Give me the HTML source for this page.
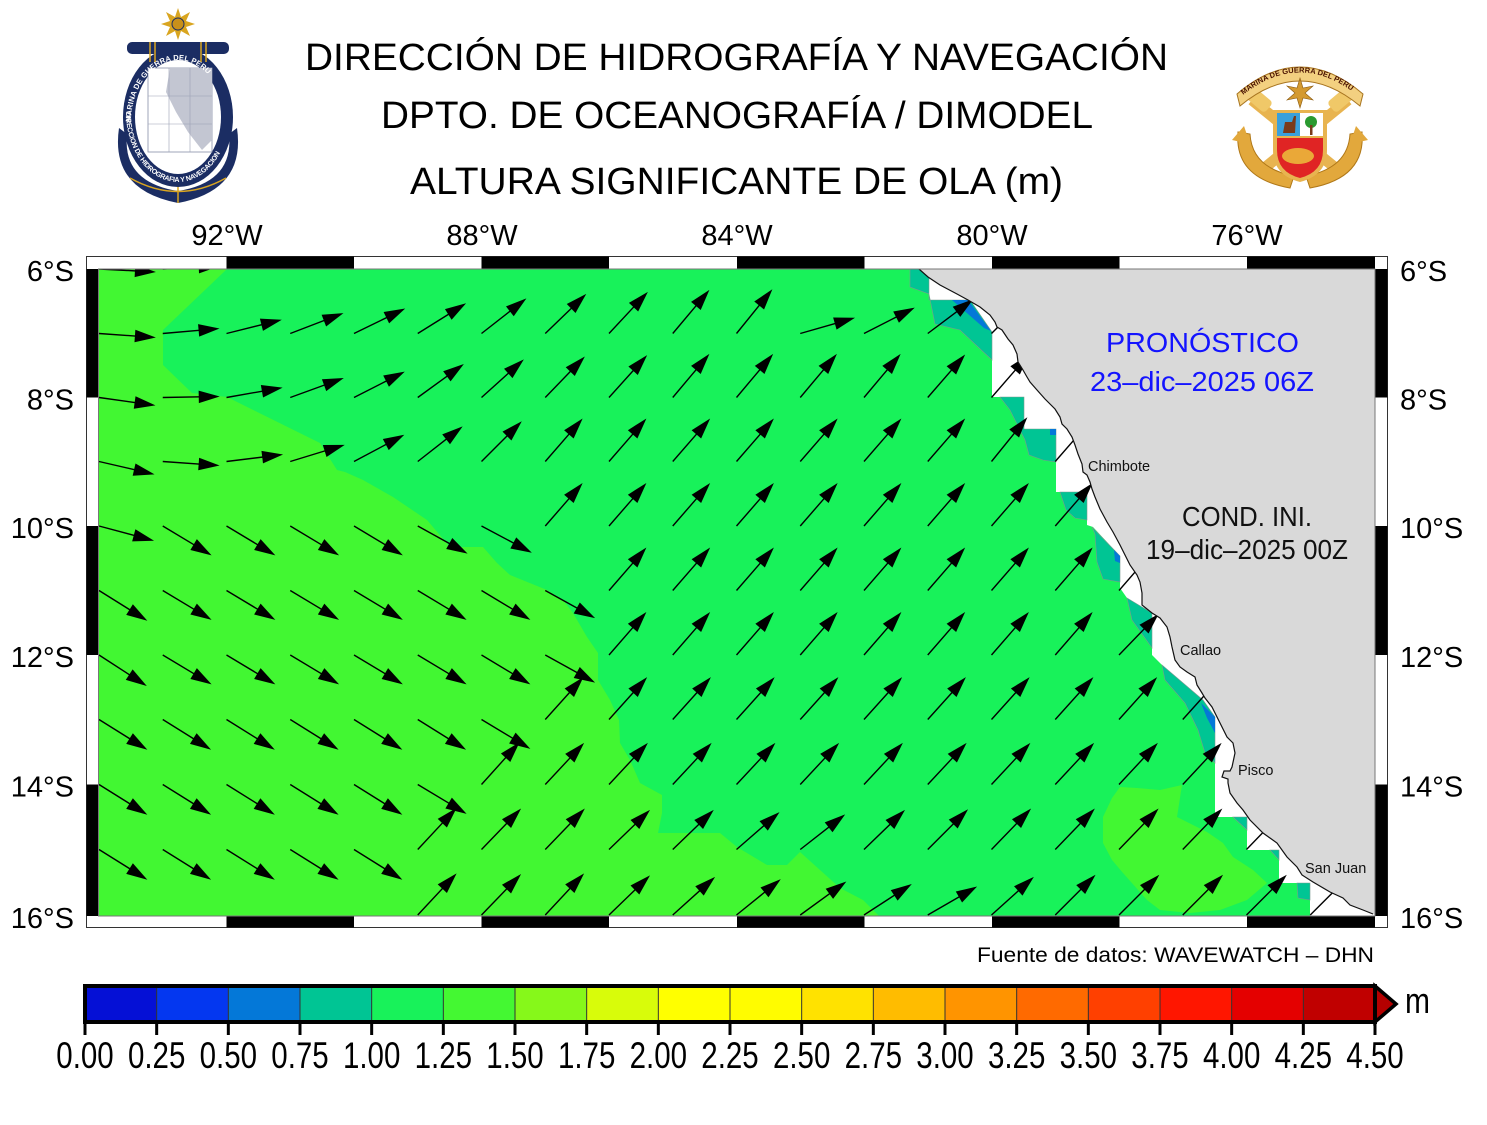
<!DOCTYPE html>
<html><head><meta charset="utf-8"><style>
html,body{margin:0;padding:0;background:#fff;}
svg{display:block;}
text{font-family:"Liberation Sans",Arial,sans-serif;}
</style></head><body>
<svg width="1487" height="1125" viewBox="0 0 1487 1125" xmlns="http://www.w3.org/2000/svg">
<defs>
<clipPath id="pc"><rect x="98.5" y="269" width="1276.5" height="647"/></clipPath>
<g id="a"><line x1="0" y1="0" x2="38" y2="0" stroke="#000" stroke-width="1.4"/><polygon points="57,0 36,-6.3 36,6.3" fill="#000"/></g>
<path id="ringTop" d="M131,122 A47,62 0 0 1 225,122"/>
<path id="ringBot" d="M126,112 A52,70 0 0 0 230,112"/>
<path id="banner" d="M1243,95 Q1300,50 1357,95"/>
</defs>
<rect x="0" y="0" width="1487" height="1125" fill="#fff"/>

<!-- LEFT LOGO -->
<g>
<path d="M119,128 Q110,190 178,203 Q246,190 237,128 L229,134 Q234,182 178,191 Q122,182 127,134 Z" fill="#1b2d63"/>
<path d="M130,178 Q178,205 226,178" fill="none" stroke="#d9a520" stroke-width="1.5"/>
<line x1="178" y1="186" x2="178" y2="203" stroke="#d9a520" stroke-width="1.5"/>
<ellipse cx="178" cy="117" rx="55" ry="70" fill="#1b2d63"/>
<ellipse cx="178" cy="117" rx="43" ry="57" fill="#fff"/>
<rect x="148" y="68" width="64" height="84" fill="#fff" stroke="#8890a8" stroke-width="0.8"/>
<polygon points="170,68 212,68 212,140 202,150 188,132 176,112 166,92" fill="#c3c6d2"/>
<g stroke="#9aa0b4" stroke-width="0.6"><line x1="148" y1="96" x2="212" y2="96"/><line x1="148" y1="124" x2="212" y2="124"/><line x1="169" y1="68" x2="169" y2="152"/><line x1="190" y1="68" x2="190" y2="152"/></g>
<text font-size="7.5" fill="#fff" font-weight="bold"><textPath href="#ringTop" textLength="120">MARINA DE GUERRA DEL PERU</textPath></text>
<text font-size="7" fill="#fff" font-weight="bold"><textPath href="#ringBot" textLength="150">DIRECCION DE HIDROGRAFIA Y NAVEGACION</textPath></text>
<rect x="127" y="42" width="102" height="12" rx="5" fill="#1b2d63"/>
<g stroke="#d9a520" stroke-width="1.5"><line x1="150" y1="42" x2="150" y2="62"/><line x1="155" y1="42" x2="155" y2="62"/><line x1="201" y1="42" x2="201" y2="62"/><line x1="206" y1="42" x2="206" y2="62"/></g>
<polygon points="178,8 181,17 190,12 186,21 195,24 186,27 190,36 181,31 178,40 175,31 166,36 170,27 161,24 170,21 166,12 175,17" fill="#d9a520"/>
<circle cx="178" cy="24" r="6" fill="#c8901a" stroke="#1b2d63" stroke-width="1"/>
</g>

<!-- RIGHT LOGO -->
<g>
<line x1="1252" y1="100" x2="1338" y2="170" stroke="#e8b450" stroke-width="11"/>
<line x1="1348" y1="100" x2="1262" y2="170" stroke="#e8b450" stroke-width="11"/>
<rect x="1244" y="92" width="28" height="14" rx="4" fill="#f0c868" transform="rotate(40 1258 99)"/>
<rect x="1328" y="92" width="28" height="14" rx="4" fill="#f0c868" transform="rotate(-40 1342 99)"/>
<path d="M1238,132 Q1234,178 1290,188 L1294,176 Q1252,168 1250,134 Z" fill="#e2a83c" stroke="#b07818" stroke-width="1"/>
<path d="M1362,132 Q1366,178 1310,188 L1306,176 Q1348,168 1350,134 Z" fill="#e2a83c" stroke="#b07818" stroke-width="1"/>
<polygon points="1232,140 1244,126 1250,144" fill="#e2a83c"/>
<polygon points="1368,140 1356,126 1350,144" fill="#e2a83c"/>
<path d="M1237,94 Q1300,40 1363,94 L1360,106 Q1300,56 1240,106 Z" fill="#f3d080" stroke="#a87520" stroke-width="1"/>
<text font-size="7.5" fill="#4a1200" font-weight="bold"><textPath href="#banner" textLength="118">MARINA DE GUERRA DEL PERU</textPath></text>
<polygon points="1300,78 1303,88 1313,86 1305,93 1313,100 1303,98 1300,108 1297,98 1287,100 1295,93 1287,86 1297,88" fill="#d49a30" stroke="#8a5a10" stroke-width="0.6"/>
<path d="M1273,110 H1327 V150 Q1327,175 1300,182 Q1273,175 1273,150 Z" fill="#e8b450"/>
<rect x="1277" y="113" width="23" height="23" fill="#3aa0dc"/>
<rect x="1300" y="113" width="23" height="23" fill="#fff"/>
<path d="M1277,138 H1323 V150 Q1323,172 1300,178 Q1277,172 1277,150 Z" fill="#e02424"/>
<ellipse cx="1298" cy="156" rx="16" ry="8" fill="#eaa838"/>
<path d="M1283,133 L1285,122 L1292,122 L1294,116 L1296,116 L1295,133 Z" fill="#7a3a1a"/>
<circle cx="1311" cy="122" r="6" fill="#2a9a30"/>
<rect x="1310" y="125" width="2.5" height="10" fill="#7a3a1a"/>
</g>

<!-- TITLES -->
<text x="305" y="70" font-size="38" textLength="863" lengthAdjust="spacingAndGlyphs" fill="#000">DIRECCIÓN DE HIDROGRAFÍA Y NAVEGACIÓN</text>
<text x="381" y="128" font-size="38" textLength="712" lengthAdjust="spacingAndGlyphs" fill="#000">DPTO. DE OCEANOGRAFÍA / DIMODEL</text>
<text x="410" y="194" font-size="38" textLength="653" lengthAdjust="spacingAndGlyphs" fill="#000">ALTURA SIGNIFICANTE DE OLA (m)</text>

<!-- FRAME -->
<rect x="86.5" y="256.5" width="1301" height="671" fill="#fff" stroke="#333" stroke-width="1"/>
<g fill="#000">
<rect x="226.5" y="256.5" width="127.5" height="12.5"/><rect x="481.5" y="256.5" width="127.5" height="12.5"/><rect x="737" y="256.5" width="127.5" height="12.5"/><rect x="992" y="256.5" width="127.5" height="12.5"/><rect x="1247" y="256.5" width="128" height="12.5"/>
<rect x="226.5" y="916" width="127.5" height="11.5"/><rect x="481.5" y="916" width="127.5" height="11.5"/><rect x="737" y="916" width="127.5" height="11.5"/><rect x="992" y="916" width="127.5" height="11.5"/><rect x="1247" y="916" width="128" height="11.5"/>
<rect x="86.5" y="269" width="12" height="128.5"/><rect x="86.5" y="526" width="12" height="129"/><rect x="86.5" y="784.5" width="12" height="131.5"/>
<rect x="1375" y="269" width="12.5" height="128.5"/><rect x="1375" y="526" width="12.5" height="129"/><rect x="1375" y="784.5" width="12.5" height="131.5"/>
</g>
<rect x="98.5" y="269" width="1276.5" height="647" fill="#fff" stroke="#777" stroke-width="1"/>

<g clip-path="url(#pc)">
<!-- data base 1.00-1.25 -->
<path d="M98.5,269 L929,269 L929,300 L970,300 L992,332 L992,397 L1024,397 L1024,429 L1056,429 L1056,492 L1087,492 L1087,525 L1093,527 L1120,556 L1120,588 L1127,598 L1152,613 L1152,655 L1162,665 L1215,717 L1215,817 L1247,817 L1247,850 L1279,850 L1279,883 L1310,883 L1310,917 L98.5,917 Z" fill="#18f25a"/>
<!-- 1.25-1.50 -->
<path d="M98.5,269 L227,269 L163,330 L163,365 L192,393 L227,397 L320,443 L337,470 L345,472 L363,480 L393,497 L427,520 L450,547 L483,547 L497,563 L510,575 L547,590 L563,600 L573,613 L587,637 L598,653 L598,680 L610,700 L619,720 L620,743 L630,760 L640,783 L662,795 L662,813 L658,833 L720,833 L737,847 L767,865 L787,865 L800,852 L820,870 L840,888 L863,900 L880,917 L98.5,917 Z" fill="#42f732"/>
<path d="M1120,787 L1137,788 L1160,790 L1182,785 L1177,817 L1207,832 L1223,843 L1233,857 L1253,870 L1267,883 L1247,900 L1220,910 L1190,913 L1160,910 L1147,900 L1123,873 L1112,860 L1103,843 L1103,817 L1112,798 Z" fill="#42f732"/>
<!-- 0.75-1.00 -->
<g fill="#00c594" stroke="#7a9a90" stroke-width="0.6">
<path d="M910,269 L929,269 L929,300 L970,300 L992,332 L992,360 L960,330 L935,324 L929,294 L910,287 Z"/>
<path d="M1000,397 L1024,397 L1024,429 L1056,429 L1056,462 L1043,460 L1029,455 L1025,440 L1010,410 Z"/>
<path d="M1060,492 L1087,492 L1087,520 L1075,518 L1066,510 Z"/>
<path d="M1092,527 L1120,556 L1120,582 L1103,579 L1097,562 L1095,534 Z"/>
<path d="M1127,598 L1152,613 L1152,648 L1132,620 Z"/>
<path d="M1162,665 L1203,700 L1215,717 L1215,763 L1205,753 L1198,730 L1185,703 L1165,680 Z"/>
<path d="M1233,817 L1247,817 L1247,830 Z"/>
<path d="M1270,850 L1279,850 L1279,860 Z"/>
<path d="M1297,883 L1310,883 L1310,900 L1298,898 Z"/>
</g>
<!-- 0.50-0.75 -->
<g fill="#0478d8">
<path d="M952,300 L968,300 L991,331 L984,328 Z"/>
<path d="M1050,429 L1056,429 L1056,435 L1050,435 Z"/>
<path d="M1114,550 L1120,556 L1120,563 L1115,561 Z"/>
<path d="M1201,703 L1215,717 L1215,733 L1207,718 Z"/>
</g>

<!-- ARROWS -->
<g>
<use href="#a" transform="translate(99,269) rotate(3)"/>
<use href="#a" transform="translate(162.75,269) rotate(-3)"/>

<use href="#a" transform="translate(99,333.5) rotate(4)"/>
<use href="#a" transform="translate(162.75,333.5) rotate(-5)"/>
<use href="#a" transform="translate(226.5,333.5) rotate(-14)"/>
<use href="#a" transform="translate(290.25,333.5) rotate(-21)"/>
<use href="#a" transform="translate(354,333.5) rotate(-26)"/>
<use href="#a" transform="translate(417.75,333.5) rotate(-32)"/>
<use href="#a" transform="translate(481.5,333.5) rotate(-38)"/>
<use href="#a" transform="translate(545.25,333.5) rotate(-44)"/>
<use href="#a" transform="translate(609,333.5) rotate(-47)"/>
<use href="#a" transform="translate(672.75,333.5) rotate(-50)"/>
<use href="#a" transform="translate(736.5,333.5) rotate(-51)"/>
<use href="#a" transform="translate(800.25,333.5) rotate(-16)"/>
<use href="#a" transform="translate(864,333.5) rotate(-27)"/>
<use href="#a" transform="translate(927.75,333.5) rotate(-37)"/>
<use href="#a" transform="translate(991.5,333.5) rotate(-45)"/>

<use href="#a" transform="translate(99,397.5) rotate(8)"/>
<use href="#a" transform="translate(162.75,397.5) rotate(-1)"/>
<use href="#a" transform="translate(226.5,397.5) rotate(-10)"/>
<use href="#a" transform="translate(290.25,397.5) rotate(-20)"/>
<use href="#a" transform="translate(354,397.5) rotate(-27)"/>
<use href="#a" transform="translate(417.75,397.5) rotate(-36)"/>
<use href="#a" transform="translate(481.5,397.5) rotate(-42)"/>
<use href="#a" transform="translate(545.25,397.5) rotate(-46)"/>
<use href="#a" transform="translate(609,397.5) rotate(-48)"/>
<use href="#a" transform="translate(672.75,397.5) rotate(-50)"/>
<use href="#a" transform="translate(736.5,397.5) rotate(-50)"/>
<use href="#a" transform="translate(800.25,397.5) rotate(-50)"/>
<use href="#a" transform="translate(864,397.5) rotate(-50)"/>
<use href="#a" transform="translate(927.75,397.5) rotate(-49)"/>
<use href="#a" transform="translate(991.5,397.5) rotate(-49)"/>

<use href="#a" transform="translate(99,461.5) rotate(13)"/>
<use href="#a" transform="translate(162.75,461.5) rotate(4)"/>
<use href="#a" transform="translate(226.5,461.5) rotate(-7)"/>
<use href="#a" transform="translate(290.25,461.5) rotate(-17)"/>
<use href="#a" transform="translate(354,461.5) rotate(-28)"/>
<use href="#a" transform="translate(417.75,461.5) rotate(-38)"/>
<use href="#a" transform="translate(481.5,461.5) rotate(-45)"/>
<use href="#a" transform="translate(545.25,461.5) rotate(-49)"/>
<use href="#a" transform="translate(609,461.5) rotate(-49)"/>
<use href="#a" transform="translate(672.75,461.5) rotate(-49)"/>
<use href="#a" transform="translate(736.5,461.5) rotate(-49)"/>
<use href="#a" transform="translate(800.25,461.5) rotate(-49)"/>
<use href="#a" transform="translate(864,461.5) rotate(-49)"/>
<use href="#a" transform="translate(927.75,461.5) rotate(-49)"/>
<use href="#a" transform="translate(991.5,461.5) rotate(-51)"/>
<use href="#a" transform="translate(1055.25,461.5) rotate(-49)"/>

<use href="#a" transform="translate(99,526) rotate(15)"/>
<use href="#a" transform="translate(162.75,526) rotate(31)"/>
<use href="#a" transform="translate(226.5,526) rotate(31)"/>
<use href="#a" transform="translate(290.25,526) rotate(31)"/>
<use href="#a" transform="translate(354,526) rotate(31)"/>
<use href="#a" transform="translate(417.75,526) rotate(29)"/>
<use href="#a" transform="translate(481.5,526) rotate(28)"/>
<use href="#a" transform="translate(545.25,526) rotate(-49)"/>
<use href="#a" transform="translate(609,526) rotate(-49)"/>
<use href="#a" transform="translate(672.75,526) rotate(-49)"/>
<use href="#a" transform="translate(736.5,526) rotate(-49)"/>
<use href="#a" transform="translate(800.25,526) rotate(-49)"/>
<use href="#a" transform="translate(864,526) rotate(-49)"/>
<use href="#a" transform="translate(927.75,526) rotate(-49)"/>
<use href="#a" transform="translate(991.5,526) rotate(-49)"/>
<use href="#a" transform="translate(1055.25,526) rotate(-49)"/>

<use href="#a" transform="translate(99,590.5) rotate(32)"/>
<use href="#a" transform="translate(162.75,590.5) rotate(31)"/>
<use href="#a" transform="translate(226.5,590.5) rotate(31)"/>
<use href="#a" transform="translate(290.25,590.5) rotate(31)"/>
<use href="#a" transform="translate(354,590.5) rotate(31)"/>
<use href="#a" transform="translate(417.75,590.5) rotate(31)"/>
<use href="#a" transform="translate(481.5,590.5) rotate(31)"/>
<use href="#a" transform="translate(545.25,590.5) rotate(29)"/>
<use href="#a" transform="translate(609,590.5) rotate(-49)"/>
<use href="#a" transform="translate(672.75,590.5) rotate(-49)"/>
<use href="#a" transform="translate(736.5,590.5) rotate(-49)"/>
<use href="#a" transform="translate(800.25,590.5) rotate(-49)"/>
<use href="#a" transform="translate(864,590.5) rotate(-49)"/>
<use href="#a" transform="translate(927.75,590.5) rotate(-49)"/>
<use href="#a" transform="translate(991.5,590.5) rotate(-49)"/>
<use href="#a" transform="translate(1055.25,590.5) rotate(-49)"/>
<use href="#a" transform="translate(1119,590.5) rotate(-49)"/>

<use href="#a" transform="translate(99,655) rotate(33)"/>
<use href="#a" transform="translate(162.75,655) rotate(31)"/>
<use href="#a" transform="translate(226.5,655) rotate(31)"/>
<use href="#a" transform="translate(290.25,655) rotate(31)"/>
<use href="#a" transform="translate(354,655) rotate(31)"/>
<use href="#a" transform="translate(417.75,655) rotate(31)"/>
<use href="#a" transform="translate(481.5,655) rotate(31)"/>
<use href="#a" transform="translate(545.25,655) rotate(29)"/>
<use href="#a" transform="translate(609,655) rotate(-49)"/>
<use href="#a" transform="translate(672.75,655) rotate(-49)"/>
<use href="#a" transform="translate(736.5,655) rotate(-49)"/>
<use href="#a" transform="translate(800.25,655) rotate(-49)"/>
<use href="#a" transform="translate(864,655) rotate(-49)"/>
<use href="#a" transform="translate(927.75,655) rotate(-49)"/>
<use href="#a" transform="translate(991.5,655) rotate(-49)"/>
<use href="#a" transform="translate(1055.25,655) rotate(-49)"/>
<use href="#a" transform="translate(1119,655) rotate(-46)"/>

<use href="#a" transform="translate(99,719.5) rotate(32)"/>
<use href="#a" transform="translate(162.75,719.5) rotate(32)"/>
<use href="#a" transform="translate(226.5,719.5) rotate(32)"/>
<use href="#a" transform="translate(290.25,719.5) rotate(32)"/>
<use href="#a" transform="translate(354,719.5) rotate(32)"/>
<use href="#a" transform="translate(417.75,719.5) rotate(32)"/>
<use href="#a" transform="translate(481.5,719.5) rotate(31)"/>
<use href="#a" transform="translate(545.25,719.5) rotate(-48)"/>
<use href="#a" transform="translate(609,719.5) rotate(-48)"/>
<use href="#a" transform="translate(672.75,719.5) rotate(-48)"/>
<use href="#a" transform="translate(736.5,719.5) rotate(-48)"/>
<use href="#a" transform="translate(800.25,719.5) rotate(-48)"/>
<use href="#a" transform="translate(864,719.5) rotate(-48)"/>
<use href="#a" transform="translate(927.75,719.5) rotate(-48)"/>
<use href="#a" transform="translate(991.5,719.5) rotate(-48)"/>
<use href="#a" transform="translate(1055.25,719.5) rotate(-48)"/>
<use href="#a" transform="translate(1119,719.5) rotate(-48)"/>
<use href="#a" transform="translate(1182.75,719.5) rotate(-48)"/>

<use href="#a" transform="translate(99,784.5) rotate(32)"/>
<use href="#a" transform="translate(162.75,784.5) rotate(32)"/>
<use href="#a" transform="translate(226.5,784.5) rotate(32)"/>
<use href="#a" transform="translate(290.25,784.5) rotate(32)"/>
<use href="#a" transform="translate(354,784.5) rotate(32)"/>
<use href="#a" transform="translate(417.75,784.5) rotate(31)"/>
<use href="#a" transform="translate(481.5,784.5) rotate(-48)"/>
<use href="#a" transform="translate(545.25,784.5) rotate(-47)"/>
<use href="#a" transform="translate(609,784.5) rotate(-47)"/>
<use href="#a" transform="translate(672.75,784.5) rotate(-47)"/>
<use href="#a" transform="translate(736.5,784.5) rotate(-47)"/>
<use href="#a" transform="translate(800.25,784.5) rotate(-47)"/>
<use href="#a" transform="translate(864,784.5) rotate(-47)"/>
<use href="#a" transform="translate(927.75,784.5) rotate(-47)"/>
<use href="#a" transform="translate(991.5,784.5) rotate(-47)"/>
<use href="#a" transform="translate(1055.25,784.5) rotate(-47)"/>
<use href="#a" transform="translate(1119,784.5) rotate(-47)"/>
<use href="#a" transform="translate(1182.75,784.5) rotate(-47)"/>

<use href="#a" transform="translate(99,849.5) rotate(32)"/>
<use href="#a" transform="translate(162.75,849.5) rotate(32)"/>
<use href="#a" transform="translate(226.5,849.5) rotate(32)"/>
<use href="#a" transform="translate(290.25,849.5) rotate(32)"/>
<use href="#a" transform="translate(354,849.5) rotate(32)"/>
<use href="#a" transform="translate(417.75,849.5) rotate(-47)"/>
<use href="#a" transform="translate(481.5,849.5) rotate(-46)"/>
<use href="#a" transform="translate(545.25,849.5) rotate(-46)"/>
<use href="#a" transform="translate(609,849.5) rotate(-44)"/>
<use href="#a" transform="translate(672.75,849.5) rotate(-44)"/>
<use href="#a" transform="translate(736.5,849.5) rotate(-41)"/>
<use href="#a" transform="translate(800.25,849.5) rotate(-38)"/>
<use href="#a" transform="translate(864,849.5) rotate(-44)"/>
<use href="#a" transform="translate(927.75,849.5) rotate(-45)"/>
<use href="#a" transform="translate(991.5,849.5) rotate(-46)"/>
<use href="#a" transform="translate(1055.25,849.5) rotate(-46)"/>
<use href="#a" transform="translate(1119,849.5) rotate(-46)"/>
<use href="#a" transform="translate(1182.75,849.5) rotate(-46)"/>
<use href="#a" transform="translate(1246.5,849.5) rotate(-46)"/>

<use href="#a" transform="translate(417.75,915) rotate(-47)"/>
<use href="#a" transform="translate(481.5,915) rotate(-46)"/>
<use href="#a" transform="translate(545.25,915) rotate(-47)"/>
<use href="#a" transform="translate(609,915) rotate(-44)"/>
<use href="#a" transform="translate(672.75,915) rotate(-42)"/>
<use href="#a" transform="translate(736.5,915) rotate(-39)"/>
<use href="#a" transform="translate(800.25,915) rotate(-36)"/>
<use href="#a" transform="translate(864,915) rotate(-33)"/>
<use href="#a" transform="translate(927.75,915) rotate(-30)"/>
<use href="#a" transform="translate(991.5,915) rotate(-42)"/>
<use href="#a" transform="translate(1055.25,915) rotate(-45)"/>
<use href="#a" transform="translate(1119,915) rotate(-45)"/>
<use href="#a" transform="translate(1182.75,915) rotate(-45)"/>
<use href="#a" transform="translate(1246.5,915) rotate(-45)"/>
<use href="#a" transform="translate(1310.25,915) rotate(-45)"/>
</g>

<!-- LAND -->
<path d="M919,269 L928,277 L940,285 L957,294 L968,300 L980,307 L990,315 L995,322 L997,327 L1002,330 L1008,339 L1013,345 L1017,354 L1018,362 L1023,370 L1027,377 L1030,382 L1037,390 L1045,399 L1055,409 L1060,417 L1062,424 L1067,429 L1072,437 L1075,445 L1078,454 L1082,464 L1083,472 L1087,475 L1090,482 L1092,489 L1095,497 L1100,509 L1107,522 L1113,532 L1120,545 L1125,555 L1130,565 L1137,575 L1140,582 L1142,593 L1142,605 L1152,613 L1160,618 L1167,627 L1170,637 L1172,647 L1175,660 L1180,667 L1187,672 L1195,677 L1197,685 L1202,693 L1205,698 L1212,707 L1217,717 L1222,727 L1227,737 L1233,743 L1235,753 L1232,767 L1230,771 L1224,771 L1222,777 L1228,779 L1228,783 L1230,793 L1237,803 L1243,810 L1250,820 L1263,833 L1277,843 L1287,857 L1297,867 L1302,875 L1313,882 L1330,892 L1343,898 L1350,905 L1363,910 L1373,914 L1376,916 L1376,268 L919,268 Z" fill="#d9d9d9"/>
<path d="M919,269 L928,277 L940,285 L957,294 L968,300 L980,307 L990,315 L995,322 L997,327 L1002,330 L1008,339 L1013,345 L1017,354 L1018,362 L1023,370 L1027,377 L1030,382 L1037,390 L1045,399 L1055,409 L1060,417 L1062,424 L1067,429 L1072,437 L1075,445 L1078,454 L1082,464 L1083,472 L1087,475 L1090,482 L1092,489 L1095,497 L1100,509 L1107,522 L1113,532 L1120,545 L1125,555 L1130,565 L1137,575 L1140,582 L1142,593 L1142,605 L1152,613 L1160,618 L1167,627 L1170,637 L1172,647 L1175,660 L1180,667 L1187,672 L1195,677 L1197,685 L1202,693 L1205,698 L1212,707 L1217,717 L1222,727 L1227,737 L1233,743 L1235,753 L1232,767 L1230,771 L1224,771 L1222,777 L1228,779 L1228,783 L1230,793 L1237,803 L1243,810 L1250,820 L1263,833 L1277,843 L1287,857 L1297,867 L1302,875 L1313,882 L1330,892 L1343,898 L1350,905 L1363,910 L1373,914" fill="none" stroke="#111" stroke-width="1.2"/>
</g>
<rect x="98.5" y="269" width="1276.5" height="647" fill="none" stroke="#777" stroke-width="1"/>

<!-- city labels -->
<g font-size="14.5" fill="#111">
<text x="1088" y="471">Chimbote</text>
<text x="1180" y="655">Callao</text>
<text x="1238" y="775">Pisco</text>
<text x="1305" y="873">San Juan</text>
</g>

<!-- forecast text -->
<text x="1106" y="352" font-size="28" textLength="193" lengthAdjust="spacingAndGlyphs" fill="#1414ff">PRONÓSTICO</text>
<text x="1090" y="391" font-size="28" textLength="224" lengthAdjust="spacingAndGlyphs" fill="#1414ff">23–dic–2025 06Z</text>
<text x="1182" y="526" font-size="28" textLength="130" lengthAdjust="spacingAndGlyphs" fill="#111">COND. INI.</text>
<text x="1146" y="559" font-size="28" textLength="202" lengthAdjust="spacingAndGlyphs" fill="#111">19–dic–2025 00Z</text>

<!-- axis labels -->
<g font-size="29" fill="#000" text-anchor="middle">
<text x="227" y="245">92°W</text>
<text x="482" y="245">88°W</text>
<text x="737" y="245">84°W</text>
<text x="992" y="245">80°W</text>
<text x="1247" y="245">76°W</text>
</g>
<g font-size="29" fill="#000" text-anchor="end">
<text x="74" y="281">6°S</text>
<text x="74" y="409.5">8°S</text>
<text x="74" y="538">10°S</text>
<text x="74" y="667">12°S</text>
<text x="74" y="796.5">14°S</text>
<text x="74" y="928">16°S</text>
</g>
<g font-size="29" fill="#000">
<text x="1400" y="281">6°S</text>
<text x="1400" y="409.5">8°S</text>
<text x="1400" y="538">10°S</text>
<text x="1400" y="667">12°S</text>
<text x="1400" y="796.5">14°S</text>
<text x="1400" y="928">16°S</text>
</g>

<text x="977" y="962" font-size="21" textLength="397" lengthAdjust="spacingAndGlyphs" fill="#000">Fuente de datos: WAVEWATCH – DHN</text>

<!-- COLORBAR -->
<g>
<rect x="85" y="986" width="71.67" height="36" fill="#0510d6"/>
<rect x="156.67" y="986" width="71.67" height="36" fill="#0437f0"/>
<rect x="228.33" y="986" width="71.67" height="36" fill="#0478d8"/>
<rect x="300" y="986" width="71.67" height="36" fill="#00c594"/>
<rect x="371.67" y="986" width="71.67" height="36" fill="#18f25a"/>
<rect x="443.33" y="986" width="71.67" height="36" fill="#44f832"/>
<rect x="515" y="986" width="71.67" height="36" fill="#86f81a"/>
<rect x="586.67" y="986" width="71.67" height="36" fill="#d8fc0a"/>
<rect x="658.33" y="986" width="71.67" height="36" fill="#ffff00"/>
<rect x="730" y="986" width="71.67" height="36" fill="#fffc00"/>
<rect x="801.67" y="986" width="71.67" height="36" fill="#ffe200"/>
<rect x="873.33" y="986" width="71.67" height="36" fill="#ffbc00"/>
<rect x="945" y="986" width="71.67" height="36" fill="#ff9400"/>
<rect x="1016.67" y="986" width="71.67" height="36" fill="#ff6a00"/>
<rect x="1088.33" y="986" width="71.67" height="36" fill="#ff4000"/>
<rect x="1160" y="986" width="71.67" height="36" fill="#ff1600"/>
<rect x="1231.67" y="986" width="71.67" height="36" fill="#e40000"/>
<rect x="1303.33" y="986" width="71.67" height="36" fill="#c00000"/>
<g stroke="#333" stroke-width="1">
<line x1="156.67" y1="988" x2="156.67" y2="1020"/><line x1="228.33" y1="988" x2="228.33" y2="1020"/><line x1="300" y1="988" x2="300" y2="1020"/><line x1="371.67" y1="988" x2="371.67" y2="1020"/><line x1="443.33" y1="988" x2="443.33" y2="1020"/><line x1="515" y1="988" x2="515" y2="1020"/><line x1="586.67" y1="988" x2="586.67" y2="1020"/><line x1="658.33" y1="988" x2="658.33" y2="1020"/><line x1="730" y1="988" x2="730" y2="1020"/><line x1="801.67" y1="988" x2="801.67" y2="1020"/><line x1="873.33" y1="988" x2="873.33" y2="1020"/><line x1="945" y1="988" x2="945" y2="1020"/><line x1="1016.67" y1="988" x2="1016.67" y2="1020"/><line x1="1088.33" y1="988" x2="1088.33" y2="1020"/><line x1="1160" y1="988" x2="1160" y2="1020"/><line x1="1231.67" y1="988" x2="1231.67" y2="1020"/><line x1="1303.33" y1="988" x2="1303.33" y2="1020"/>
</g>
<polygon points="1375,986 1396,1004 1375,1022" fill="#b40000" stroke="#000" stroke-width="3.5" stroke-linejoin="miter"/>
<rect x="85" y="986" width="1290" height="36" fill="none" stroke="#000" stroke-width="4"/>
<g stroke="#000" stroke-width="3">
<line x1="85" y1="1023" x2="85" y2="1035"/><line x1="156.67" y1="1023" x2="156.67" y2="1035"/><line x1="228.33" y1="1023" x2="228.33" y2="1035"/><line x1="300" y1="1023" x2="300" y2="1035"/><line x1="371.67" y1="1023" x2="371.67" y2="1035"/><line x1="443.33" y1="1023" x2="443.33" y2="1035"/><line x1="515" y1="1023" x2="515" y2="1035"/><line x1="586.67" y1="1023" x2="586.67" y2="1035"/><line x1="658.33" y1="1023" x2="658.33" y2="1035"/><line x1="730" y1="1023" x2="730" y2="1035"/><line x1="801.67" y1="1023" x2="801.67" y2="1035"/><line x1="873.33" y1="1023" x2="873.33" y2="1035"/><line x1="945" y1="1023" x2="945" y2="1035"/><line x1="1016.67" y1="1023" x2="1016.67" y2="1035"/><line x1="1088.33" y1="1023" x2="1088.33" y2="1035"/><line x1="1160" y1="1023" x2="1160" y2="1035"/><line x1="1231.67" y1="1023" x2="1231.67" y2="1035"/><line x1="1303.33" y1="1023" x2="1303.33" y2="1035"/><line x1="1375" y1="1023" x2="1375" y2="1035"/>
</g>
<g font-size="29.5" fill="#000" text-anchor="middle">
<text transform="translate(85,1068) scale(1,1.25)">0.00</text>
<text transform="translate(156.67,1068) scale(1,1.25)">0.25</text>
<text transform="translate(228.33,1068) scale(1,1.25)">0.50</text>
<text transform="translate(300,1068) scale(1,1.25)">0.75</text>
<text transform="translate(371.67,1068) scale(1,1.25)">1.00</text>
<text transform="translate(443.33,1068) scale(1,1.25)">1.25</text>
<text transform="translate(515,1068) scale(1,1.25)">1.50</text>
<text transform="translate(586.67,1068) scale(1,1.25)">1.75</text>
<text transform="translate(658.33,1068) scale(1,1.25)">2.00</text>
<text transform="translate(730,1068) scale(1,1.25)">2.25</text>
<text transform="translate(801.67,1068) scale(1,1.25)">2.50</text>
<text transform="translate(873.33,1068) scale(1,1.25)">2.75</text>
<text transform="translate(945,1068) scale(1,1.25)">3.00</text>
<text transform="translate(1016.67,1068) scale(1,1.25)">3.25</text>
<text transform="translate(1088.33,1068) scale(1,1.25)">3.50</text>
<text transform="translate(1160,1068) scale(1,1.25)">3.75</text>
<text transform="translate(1231.67,1068) scale(1,1.25)">4.00</text>
<text transform="translate(1303.33,1068) scale(1,1.25)">4.25</text>
<text transform="translate(1375,1068) scale(1,1.25)">4.50</text>
</g>
<text transform="translate(1405,1013) scale(1,1.2)" font-size="30" fill="#000">m</text>
</g>
</svg>
</body></html>
